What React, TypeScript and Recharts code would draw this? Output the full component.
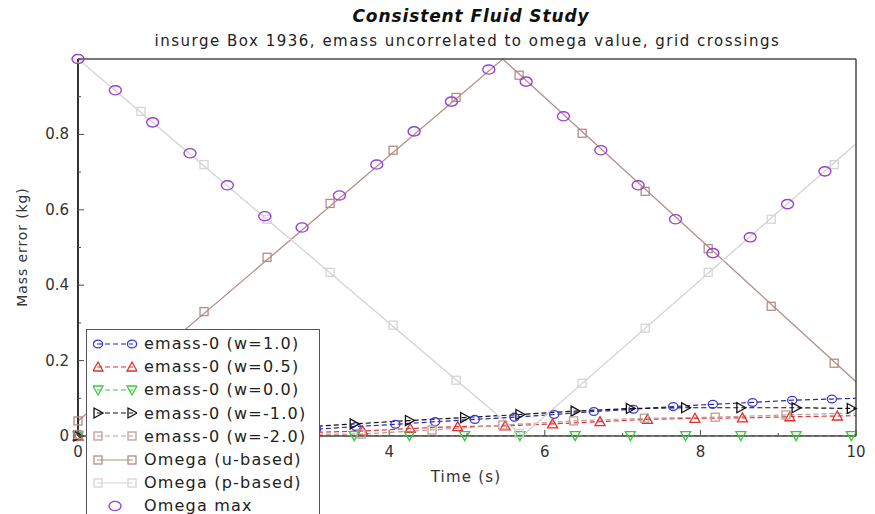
import { ComposedChart, Line, XAxis, YAxis } from "recharts"

const FONT = '"DejaVu Sans", Verdana, sans-serif'

// axis ticks (minor every unit / tenth, labels on the even ones)
const xTicks = [0, 1, 2, 3, 4, 5, 6, 7, 8, 9, 10]
const yTicks = [0, 0.1, 0.2, 0.3, 0.4, 0.5, 0.6, 0.7, 0.8, 0.9, 1.0]
// the "2" label sits under the legend box in the reference
const hiddenXLabels = [2]

// emass-0 series, sampled where the markers sit (last point is the line end at t=10)
const w10Time = [0, 0.51, 1.02, 1.53, 2.04, 2.55, 3.06, 3.57, 4.08, 4.59, 5.1, 5.61, 6.12, 6.63, 7.14, 7.65, 8.16, 8.67, 9.18, 9.69, 10]
const w10Err = [0, 0.003, 0.006, 0.009, 0.012, 0.015, 0.018, 0.025, 0.031, 0.038, 0.044, 0.05, 0.057, 0.065, 0.071, 0.078, 0.084, 0.089, 0.095, 0.098, 0.1]

const w05Time = [0, 0.61, 1.22, 1.83, 2.44, 3.05, 3.66, 4.27, 4.88, 5.49, 6.1, 6.71, 7.32, 7.93, 8.54, 9.15, 9.76, 10]
const w05Err = [0, 0.002, 0.004, 0.006, 0.008, 0.01, 0.013, 0.02, 0.025, 0.027, 0.032, 0.038, 0.044, 0.047, 0.048, 0.051, 0.053, 0.054]

const w00Time = [0, 0.71, 1.42, 2.13, 2.84, 3.55, 4.26, 4.97, 5.68, 6.39, 7.1, 7.81, 8.52, 9.23, 9.94, 10]
const w00Err = [0, 0.001, 0.001, 0.001, 0.001, 0.001, 0.001, 0.001, 0.001, 0.001, 0.001, 0.001, 0.001, 0.001, 0.001, 0.001]

const wm10Time = [0, 0.71, 1.42, 2.13, 2.84, 3.55, 4.26, 4.97, 5.68, 6.39, 7.1, 7.81, 8.52, 9.23, 9.94, 10]
const wm10Err = [0, 0.006, 0.012, 0.017, 0.023, 0.032, 0.041, 0.049, 0.057, 0.066, 0.073, 0.075, 0.075, 0.075, 0.073, 0.073]

const wm20Time = [0, 0.91, 1.82, 2.73, 3.64, 4.55, 5.46, 6.37, 7.28, 8.19, 9.1, 10]
const wm20Err = [0.004, 0.004, 0.005, 0.005, 0.005, 0.016, 0.029, 0.04, 0.047, 0.05, 0.056, 0.061]

// omega curves: line vertices plus the marker samples
const omegaUTime = [0, 5.46, 10]
const omegaUVal = [0.04, 1.0, 0.144]
const omegaPTime = [0, 5.71, 10]
const omegaPVal = [1.0, 0.0, 0.775]

const omegaMarkTime = [0, 0.81, 1.62, 2.43, 3.24, 4.05, 4.86, 5.67, 6.48, 7.29, 8.1, 8.91, 9.72]
const omegaUMarks = [0.04, 0.18, 0.33, 0.474, 0.617, 0.758, 0.898, 0.957, 0.803, 0.649, 0.497, 0.344, 0.193]
const omegaPMarks = [1.0, 0.861, 0.72, 0.575, 0.434, 0.294, 0.148, 0.007, 0.14, 0.286, 0.434, 0.575, 0.72]

const omegaMaxTime = [0, 0.48, 0.96, 1.44, 1.92, 2.4, 2.88, 3.36, 3.84, 4.32, 4.8, 5.28, 5.76, 6.24, 6.72, 7.2, 7.68, 8.16, 8.64, 9.12, 9.6]
const omegaMaxVal = [1.0, 0.917, 0.832, 0.75, 0.665, 0.583, 0.553, 0.638, 0.72, 0.808, 0.887, 0.972, 0.94, 0.848, 0.758, 0.665, 0.575, 0.485, 0.527, 0.615, 0.702]

const zip = (xs: number[], ys: number[]) => xs.map((x, i) => ({ x, y: ys[i] }))

type Shape = "circle" | "up" | "down" | "right" | "square" | "ellipse"

interface Series {
  name: string
  color: string
  lineColor: string
  shape: Shape
  data: { x: number; y: number }[]
}

const emassSeries: Series[] = [
  { name: "emass-0 (w=1.0)", color: "#3838d8", lineColor: "#2626b0", shape: "circle", data: zip(w10Time, w10Err) },
  { name: "emass-0 (w=0.5)", color: "#e23030", lineColor: "#e03434", shape: "up", data: zip(w05Time, w05Err) },
  { name: "emass-0 (w=0.0)", color: "#3cc83c", lineColor: "#3cc83c", shape: "down", data: zip(w00Time, w00Err) },
  { name: "emass-0 (w=-1.0)", color: "#111111", lineColor: "#111111", shape: "right", data: zip(wm10Time, wm10Err) },
  { name: "emass-0 (w=-2.0)", color: "#c09c96", lineColor: "#c09c96", shape: "square", data: zip(wm20Time, wm20Err) },
]

const OMEGA_U = "#b48c86"
const OMEGA_P = "#d4d4d4"
const OMEGA_MAX = "#9b3fd2"

function Marker({ cx, cy, shape, color }: { cx: number; cy: number; shape: Shape; color: string }) {
  const sw = 1.3
  switch (shape) {
    case "circle":
      return <ellipse cx={cx} cy={cy} rx={4.6} ry={3.9} fill="none" stroke={color} strokeWidth={sw} />
    case "ellipse":
      return <ellipse cx={cx} cy={cy} rx={6} ry={4.6} fill="none" stroke={color} strokeWidth={1.4} />
    case "up":
      return <polygon points={`${cx},${cy - 5} ${cx + 5},${cy + 4} ${cx - 5},${cy + 4}`} fill="none" stroke={color} strokeWidth={sw} />
    case "down":
      return <polygon points={`${cx - 5},${cy - 4} ${cx + 5},${cy - 4} ${cx},${cy + 5}`} fill="none" stroke={color} strokeWidth={sw} />
    case "right":
      return <polygon points={`${cx - 4},${cy - 5} ${cx + 5},${cy} ${cx - 4},${cy + 5}`} fill="none" stroke={color} strokeWidth={sw} />
    default:
      return <rect x={cx - 4} y={cy - 4} width={8} height={8} fill="none" stroke={color} strokeWidth={sw} />
  }
}

// hideLast: the final point only closes the line at t=10 and carries no marker
const dotFor = (shape: Shape, color: string, hideLast: boolean, count: number) => (p: any) => {
  const { cx, cy, index } = p
  if ((hideLast && index === count - 1) || cx == null || cy == null) return <g key={`d-${index}`} />
  return (
    <g key={`d-${index}`}>
      <Marker cx={cx} cy={cy} shape={shape} color={color} />
    </g>
  )
}

const AXIS = "#4a4a4a"
const TICK_TEXT = "#333"

function BottomTick({ x, y, payload }: any) {
  const v = payload.value
  const major = v % 2 === 0
  return (
    <g>
      <line x1={x} x2={x} y1={y} y2={y - (major ? 6 : 3)} stroke={AXIS} />
      {major && !hiddenXLabels.includes(v) && (
        <text x={x} y={y + 16} textAnchor="middle" dominantBaseline="central" fontSize={15} fill={TICK_TEXT}>
          {v}
        </text>
      )}
    </g>
  )
}

function TopTick({ x, y, payload }: any) {
  const major = payload.value % 2 === 0
  return <line x1={x} x2={x} y1={y} y2={y + (major ? 6 : 3)} stroke={AXIS} />
}

function LeftTick({ x, y, payload }: any) {
  const v = payload.value
  const major = Math.round(v * 10) % 2 === 0
  return (
    <g>
      <line x1={x} x2={x + (major ? 6 : 3)} y1={y} y2={y} stroke={AXIS} />
      {major && v < 0.95 && (
        <text x={x - 9} y={y} textAnchor="end" dominantBaseline="central" fontSize={15} fill={TICK_TEXT}>
          {v === 0 ? "0" : v.toFixed(1)}
        </text>
      )}
    </g>
  )
}

function RightTick({ x, y, payload }: any) {
  const major = Math.round(payload.value * 10) % 2 === 0
  return <line x1={x} x2={x - (major ? 6 : 3)} y1={y} y2={y} stroke={AXIS} />
}

function LegendIcon({ shape, color, lineColor, dashed, line }: { shape: Shape; color: string; lineColor: string; dashed: boolean; line: boolean }) {
  return (
    <svg width={44} height={14} style={{ display: "block" }}>
      {line ? (
        <>
          <line x1={4} x2={40} y1={7} y2={7} stroke={lineColor} strokeWidth={1.2} strokeDasharray={dashed ? "5 3" : undefined} />
          <Marker cx={5} cy={7} shape={shape} color={color} />
          <Marker cx={39} cy={7} shape={shape} color={color} />
        </>
      ) : (
        <Marker cx={22} cy={7} shape={shape} color={color} />
      )}
    </svg>
  )
}

const legendRows = [
  ...emassSeries.map((s) => ({ name: s.name, shape: s.shape, color: s.color, lineColor: s.lineColor, dashed: true, line: true })),
  { name: "Omega (u-based)", shape: "square" as Shape, color: OMEGA_U, lineColor: OMEGA_U, dashed: false, line: true },
  { name: "Omega (p-based)", shape: "square" as Shape, color: OMEGA_P, lineColor: OMEGA_P, dashed: false, line: true },
  { name: "Omega max", shape: "ellipse" as Shape, color: OMEGA_MAX, lineColor: OMEGA_MAX, dashed: false, line: false },
]

export default function App() {
  const uMarks = zip(omegaMarkTime, omegaUMarks)
  const pMarks = zip(omegaMarkTime, omegaPMarks)
  const maxMarks = zip(omegaMaxTime, omegaMaxVal)

  return (
    <div
      style={{
        position: "absolute",
        left: 0,
        top: 0,
        width: 875,
        height: 514,
        overflow: "hidden",
        background: "#fff",
        fontFamily: FONT,
      }}
    >
      <div style={{ position: "absolute", left: 0, top: 6, width: 942, textAlign: "center", fontSize: 17, lineHeight: "20px", fontWeight: "bold", fontStyle: "italic", color: "#111", letterSpacing: 0.9 }}>
        Consistent Fluid Study
      </div>
      <div style={{ position: "absolute", left: 0, top: 31, width: 935, textAlign: "center", fontSize: 15, lineHeight: "20px", color: "#222", letterSpacing: 1.5 }}>
        insurge Box 1936, emass uncorrelated to omega value, grid crossings
      </div>

      <ComposedChart width={875} height={514} margin={{ top: 49, right: 9, bottom: 48, left: 18 }}>
        <XAxis
          xAxisId="b"
          type="number"
          dataKey="x"
          domain={[0, 10]}
          ticks={xTicks}
          interval={0}
          height={30}
          tickSize={0}
          tickMargin={0}
          tickLine={false}
          axisLine={{ stroke: AXIS, strokeWidth: 1.5 }}
          tick={<BottomTick />}
        />
        <XAxis
          xAxisId="t"
          orientation="top"
          type="number"
          dataKey="x"
          domain={[0, 10]}
          ticks={xTicks}
          interval={0}
          height={10}
          tickSize={0}
          tickMargin={0}
          tickLine={false}
          axisLine={{ stroke: AXIS, strokeWidth: 1.5 }}
          tick={<TopTick />}
        />
        <YAxis
          yAxisId="l"
          type="number"
          dataKey="y"
          domain={[0, 1]}
          ticks={yTicks}
          interval={0}
          width={60}
          tickSize={0}
          tickMargin={0}
          tickLine={false}
          axisLine={{ stroke: "#333", strokeWidth: 2 }}
          tick={<LeftTick />}
        />
        <YAxis
          yAxisId="r"
          orientation="right"
          type="number"
          dataKey="y"
          domain={[0, 1]}
          ticks={yTicks}
          interval={0}
          width={10}
          tickSize={0}
          tickMargin={0}
          tickLine={false}
          axisLine={{ stroke: AXIS, strokeWidth: 1.5 }}
          tick={<RightTick />}
        />

        {emassSeries.map((s) => (
          <Line
            key={s.name}
            xAxisId="b"
            yAxisId="l"
            data={s.data}
            dataKey="y"
            type="linear"
            stroke={s.lineColor}
            strokeWidth={1.2}
            strokeDasharray="5 3"
            dot={dotFor(s.shape, s.color, true, s.data.length)}
            activeDot={false}
            isAnimationActive={false}
          />
        ))}

        <Line xAxisId="b" yAxisId="l" data={zip(omegaUTime, omegaUVal)} dataKey="y" type="linear" stroke={OMEGA_U} strokeWidth={1.3} dot={false} activeDot={false} isAnimationActive={false} />
        <Line xAxisId="b" yAxisId="l" data={uMarks} dataKey="y" stroke="none" dot={dotFor("square", OMEGA_U, false, uMarks.length)} activeDot={false} isAnimationActive={false} />
        <Line xAxisId="b" yAxisId="l" data={zip(omegaPTime, omegaPVal)} dataKey="y" type="linear" stroke={OMEGA_P} strokeWidth={1.3} dot={false} activeDot={false} isAnimationActive={false} />
        <Line xAxisId="b" yAxisId="l" data={pMarks} dataKey="y" stroke="none" dot={dotFor("square", OMEGA_P, false, pMarks.length)} activeDot={false} isAnimationActive={false} />
        <Line xAxisId="b" yAxisId="l" data={maxMarks} dataKey="y" stroke="none" dot={dotFor("ellipse", OMEGA_MAX, false, maxMarks.length)} activeDot={false} isAnimationActive={false} />
      </ComposedChart>

      <div style={{ position: "absolute", left: 366, top: 467, width: 200, textAlign: "center", fontSize: 15, lineHeight: "20px", color: "#333", letterSpacing: 1.2 }}>
        Time (s)
      </div>
      <div
        style={{
          position: "absolute",
          left: 22,
          top: 247,
          width: 200,
          marginLeft: -100,
          marginTop: -10,
          textAlign: "center",
          fontSize: 14,
          lineHeight: "20px",
          color: "#333",
          letterSpacing: 0.9,
          transform: "rotate(-90deg)",
        }}
      >
        Mass error (kg)
      </div>

      <div
        style={{
          position: "absolute",
          left: 86,
          top: 329,
          width: 232,
          height: 200,
          border: "1px solid #555",
          background: "#fff",
          paddingTop: 2,
        }}
      >
        {legendRows.map((r) => (
          <div key={r.name} style={{ display: "flex", alignItems: "center", height: 23.2, paddingLeft: 6 }}>
            <LegendIcon shape={r.shape} color={r.color} lineColor={r.lineColor} dashed={r.dashed} line={r.line} />
            <span style={{ marginLeft: 7, fontSize: 16, color: "#222", whiteSpace: "nowrap", letterSpacing: 1.2 }}>{r.name}</span>
          </div>
        ))}
      </div>
    </div>
  )
}
